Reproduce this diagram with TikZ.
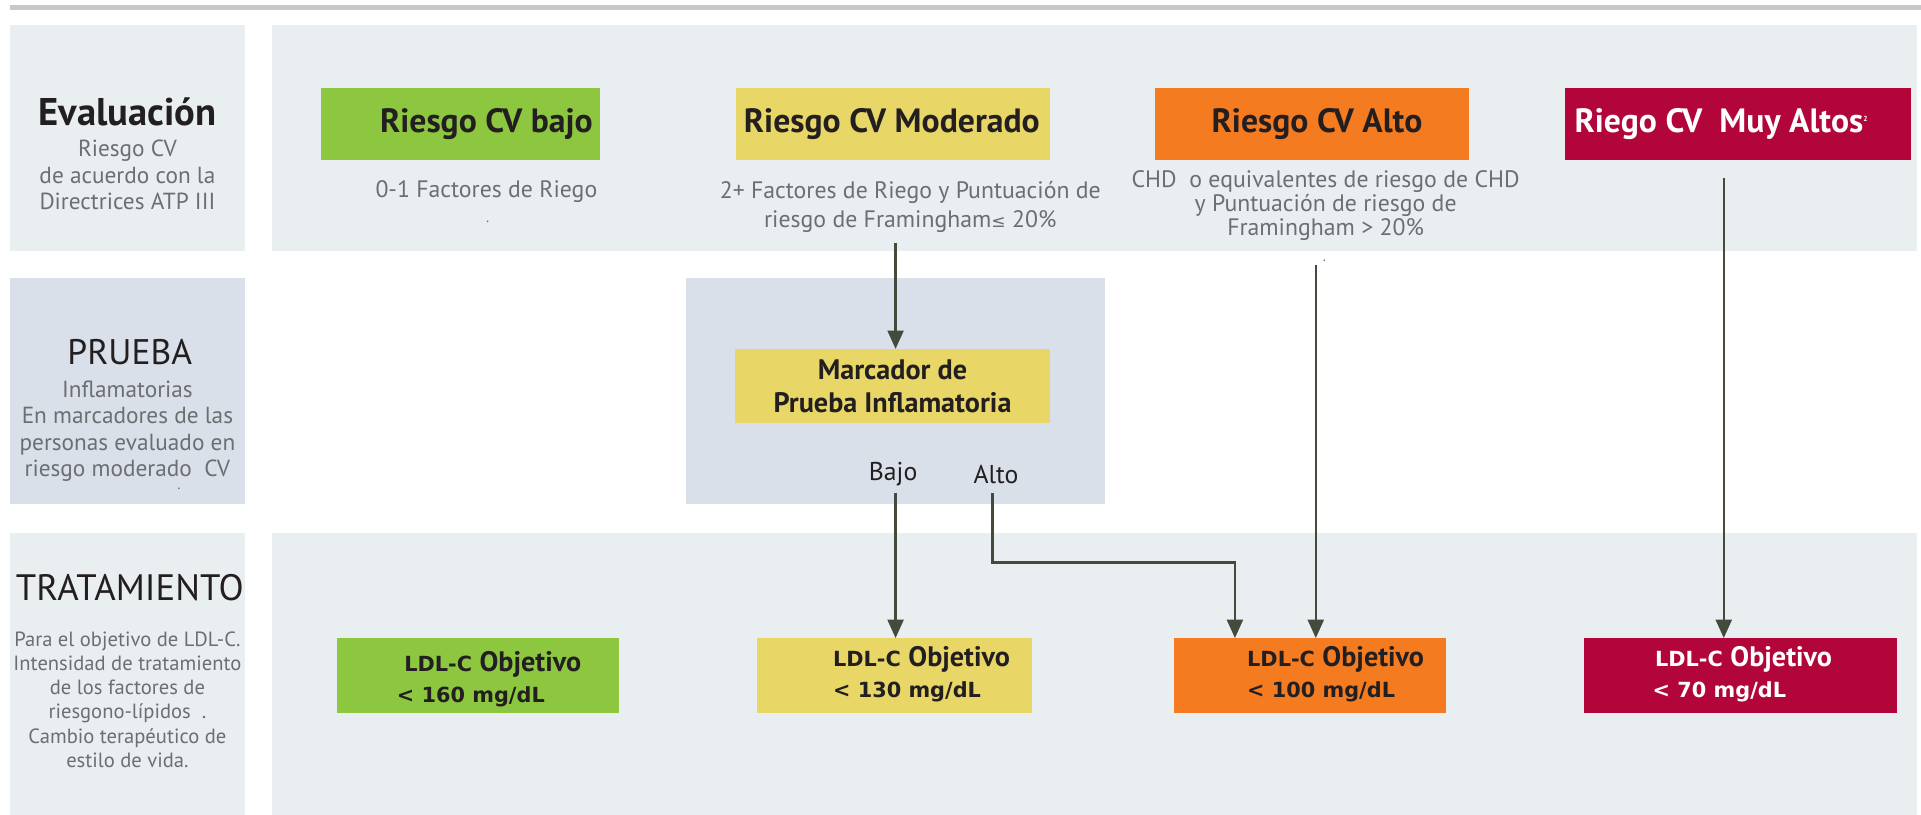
\documentclass[tikz,border=0pt]{standalone}
\usepackage{fontspec}
\setmainfont{PT Sans}
\newfontfamily\dv{DejaVu Sans}
\usetikzlibrary{arrows.meta}
\definecolor{panelA}{HTML}{E9EEF1}
\definecolor{panelB}{HTML}{D9E0E9}
\definecolor{topline}{HTML}{C8C8C8}
\definecolor{cgreen}{HTML}{8DC63F}
\definecolor{cyellow}{HTML}{E8D666}
\definecolor{corange}{HTML}{F47B20}
\definecolor{cred}{HTML}{B2063A}
\definecolor{ink}{HTML}{231F20}
\definecolor{greytxt}{HTML}{6D6E71}
\definecolor{arrowc}{HTML}{434B3C}
\tikzset{
  box/.style={rectangle, inner sep=0pt, minimum height=59pt},
  tbox/.style={rectangle, inner sep=0pt, minimum height=61pt},
  ttl/.style={font=\fontsize{27.5}{30}\selectfont\bfseries, text=ink, inner sep=0pt},
  sidettl/.style={font=\fontsize{29}{34}\selectfont, text=ink, inner sep=0pt},
  sidedesc/.style={font=\fontsize{19}{21.7}\selectfont, text=greytxt, align=center, inner sep=0pt},
  desc/.style={font=\fontsize{19.4}{24}\selectfont, text=greytxt, align=center, inner sep=0pt},
  dotlbl/.style={font=\fontsize{12}{12}\selectfont, text=greytxt, inner sep=0pt},
  lbl/.style={font=\fontsize{21}{24}\selectfont, text=ink, inner sep=0pt},
  ldl/.style={align=left, inner sep=0pt, font=\fontsize{23}{25}\selectfont},
  arr/.style={draw=arrowc, line width=2pt, -{Triangle[width=13pt,length=15pt]}},
}
\newcommand{\ldlc}{{\dv\bfseries\fontsize{17}{18}\selectfont LDL-C}}
\newcommand{\ldlv}[1]{{\dv\bfseries\fontsize{17}{18}\selectfont #1}}
\begin{document}
\begin{tikzpicture}[x=1pt,y=-1pt]
\useasboundingbox (0,0) rectangle (1568,665);
% top rule
\fill[topline] (8,4) rectangle (1568,8.5);
% panels
\fill[panelA] (8,20) rectangle (200,205);
\fill[panelA] (222,20) rectangle (1565,205);
\fill[panelB] (8,227) rectangle (200,411);
\fill[panelB] (560,227) rectangle (902,411);
\fill[panelA] (8,435) rectangle (200,665);
\fill[panelA] (222,435) rectangle (1565,665);

% left column
\node[sidettl, font=\fontsize{31.5}{34}\selectfont\bfseries] (evT) at (104,91) {Evaluación};
\node[sidedesc] (evD) at (104,143) {Riesgo CV\\de acuerdo con la\\Directrices ATP III};
\node[sidettl] (prT) at (106,287) {PRUEBA};
\node[sidedesc] (prD) at (104,352) {Inflamatorias\\En marcadores de las\\personas evaluado en\\riesgo moderado\ \ CV};
\node[dotlbl] (prDot) at (146,399) {.};
\node[sidettl, font=\fontsize{30}{34}\selectfont] (trT) at (106,480) {TRATAMIENTO};
\node[sidedesc, font=\fontsize{16.8}{19.8}\selectfont] (trD) at (104,571) {Para el objetivo de LDL-C.\\Intensidad de tratamiento\\de los factores de\\riesgono-lípidos\ \ .\\Cambio terapéutico de\\estilo de vida.};

% risk boxes
\node[box, fill=cgreen, minimum width=228pt] (b1) at (376,101.5) {};
\node[ttl] (b1t) at (397,101) {Riesgo CV bajo};
\node[box, fill=cyellow, minimum width=256pt] (b2) at (729,101.5) {};
\node[ttl] (b2t) at (728,101) {Riesgo CV Moderado};
\node[box, fill=corange, minimum width=256pt] (b3) at (1071,101.5) {};
\node[ttl] (b3t) at (1075,101) {Riesgo CV Alto};
\node[box, fill=cred, minimum width=283pt] (b4) at (1418.5,101.5) {};
\node[ttl, text=white] (b4t) at (1405,101) {Riego CV\ \ Muy Altos\textsuperscript{\fontsize{6}{6}\selectfont 2}};

% descriptions
\node[desc] (d1) at (397,156) {0-1 Factores de Riego};
\node[dotlbl] (d1dot) at (398,181) {.};
\node[desc] (d2) at (743,169) {2+ Factores de Riego y Puntuación de\\riesgo de Framingham{\dv\fontsize{14}{14}\selectfont ≤} 20\%};
\node[desc, font=\fontsize{19.4}{19.5}\selectfont] (d3) at (1082,168) {CHD\ \ o equivalentes de riesgo de CHD\\y Puntuación de riesgo de\\Framingham > 20\%};
\node[dotlbl] (d3dot) at (1081,213) {.};

% marker box
\node[box, fill=cyellow, minimum width=257pt, minimum height=60pt, font=\fontsize{23}{27}\selectfont\bfseries, text=ink, align=center] (mk) at (728.5,315) {Marcador de\\Prueba Inflamatoria};
\node[lbl] (lbajo) at (729,387) {Bajo};
\node[lbl] (lalto) at (813,387) {Alto};

% treatment boxes
\node[tbox, fill=cgreen, minimum width=230pt] (tG) at (390,551.5) {};
\node[tbox, fill=cyellow, minimum width=224pt] (tY) at (730,551.5) {};
\node[tbox, fill=corange, minimum width=222pt] (tO) at (1069,551.5) {};
\node[tbox, fill=cred, minimum width=255pt] (tR) at (1420.5,551.5) {};
\node[ldl, text=ink, anchor=west] (tGt) at ([xshift=49pt,yshift=-3pt]tG.west) {\hspace*{6pt}\ldlc\ \textbf{Objetivo}\\\ldlv{<\ 160 mg/dL}};
\node[ldl, text=ink, anchor=west] (tYt) at ([xshift=62pt,yshift=1pt]tY.west) {\ldlc\ \textbf{Objetivo}\\\ldlv{<\ 130 mg/dL}};
\node[ldl, text=ink, anchor=west] (tOt) at ([xshift=60pt,yshift=1pt]tO.west) {\ldlc\ \textbf{Objetivo}\\\ldlv{<\ 100 mg/dL}};
\node[ldl, text=white, anchor=west] (tRt) at ([xshift=56pt,yshift=1pt]tR.west) {\hspace*{2pt}\ldlc\ \textbf{Objetivo}\\\ldlv{<\ 70 mg/dL}};

% connectors
\coordinate (s2) at (731,198);
\draw[arr] (s2) -- (s2 |- mk.north);
\coordinate (sb) at (731,402);
\draw[arr] (sb) -- (sb |- tY.north);
\coordinate (sa) at (810,402);
\coordinate (ta) at (1008,459);
\draw[arr] (sa) |- (ta) -- (ta |- tO.north);
\coordinate (s3) at (1074,216);
\draw[arr] (s3) -- (s3 |- tO.north);
\coordinate (s4) at (1407,145);
\draw[arr] (s4) -- (s4 |- tR.north);
\end{tikzpicture}
\end{document}
